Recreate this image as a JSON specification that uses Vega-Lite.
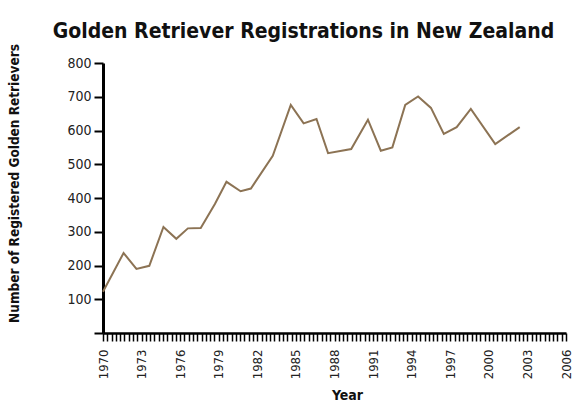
{
  "$schema": "https://vega.github.io/schema/vega-lite/v6.json",
  "width": 463,
  "height": 270,
  "autosize": {"type": "none"},
  "padding": {"left": 103, "top": 63, "right": 7, "bottom": 70},
  "background": "white",
  "config": {"view": {"stroke": null}, "font": "DejaVu Sans Condensed, Roboto, sans-serif"},
  "title": {
    "text": "Golden Retriever Registrations in New Zealand",
    "font": "DejaVu Sans Condensed, Roboto, sans-serif",
    "fontSize": 21,
    "fontWeight": "bold",
    "color": "#111",
    "anchor": "middle",
    "frame": "group",
    "dx": -31,
    "offset": 2
  },
  "data": {
    "values": [
      {"year": 1970.0, "registrations": 122},
      {"year": 1971.6, "registrations": 237},
      {"year": 1972.6, "registrations": 190},
      {"year": 1973.6, "registrations": 199},
      {"year": 1974.7, "registrations": 314},
      {"year": 1975.7, "registrations": 279},
      {"year": 1976.6, "registrations": 310},
      {"year": 1977.6, "registrations": 311},
      {"year": 1978.7, "registrations": 382},
      {"year": 1979.6, "registrations": 448},
      {"year": 1980.7, "registrations": 420},
      {"year": 1981.5, "registrations": 428},
      {"year": 1983.2, "registrations": 525},
      {"year": 1984.6, "registrations": 676},
      {"year": 1985.6, "registrations": 621},
      {"year": 1986.6, "registrations": 634},
      {"year": 1987.5, "registrations": 533},
      {"year": 1989.3, "registrations": 545},
      {"year": 1990.6, "registrations": 632},
      {"year": 1991.6, "registrations": 540},
      {"year": 1992.5, "registrations": 550},
      {"year": 1993.5, "registrations": 676},
      {"year": 1994.5, "registrations": 701},
      {"year": 1995.5, "registrations": 667},
      {"year": 1996.5, "registrations": 590},
      {"year": 1997.5, "registrations": 610},
      {"year": 1998.6, "registrations": 664},
      {"year": 2000.5, "registrations": 560},
      {"year": 2002.4, "registrations": 610}
    ]
  },
  "mark": {"type": "line", "color": "#8C7354", "strokeWidth": 2},
  "encoding": {
    "x": {
      "field": "year",
      "type": "quantitative",
      "scale": {"domain": [1970, 2006], "nice": false, "zero": false},
      "axis": {
        "values": [1970,1970.3333,1970.6667,1971,1971.3333,1971.6667,1972,1972.3333,1972.6667,1973,1973.3333,1973.6667,1974,1974.3333,1974.6667,1975,1975.3333,1975.6667,1976,1976.3333,1976.6667,1977,1977.3333,1977.6667,1978,1978.3333,1978.6667,1979,1979.3333,1979.6667,1980,1980.3333,1980.6667,1981,1981.3333,1981.6667,1982,1982.3333,1982.6667,1983,1983.3333,1983.6667,1984,1984.3333,1984.6667,1985,1985.3333,1985.6667,1986,1986.3333,1986.6667,1987,1987.3333,1987.6667,1988,1988.3333,1988.6667,1989,1989.3333,1989.6667,1990,1990.3333,1990.6667,1991,1991.3333,1991.6667,1992,1992.3333,1992.6667,1993,1993.3333,1993.6667,1994,1994.3333,1994.6667,1995,1995.3333,1995.6667,1996,1996.3333,1996.6667,1997,1997.3333,1997.6667,1998,1998.3333,1998.6667,1999,1999.3333,1999.6667,2000,2000.3333,2000.6667,2001,2001.3333,2001.6667,2002,2002.3333,2002.6667,2003,2003.3333,2003.6667,2004,2004.3333,2004.6667,2005,2005.3333,2005.6667,2006],
        "labelExpr": "abs(datum.value - round(datum.value)) < 0.01 && (round(datum.value) - 1970) % 3 == 0 ? format(round(datum.value), 'd') : ''",
        "grid": false,
        "domainColor": "#000",
        "domainWidth": 2.5,
        "tickColor": "#000",
        "tickWidth": 1.5,
        "tickSize": 8,
        "labelAngle": 270,
        "labelAlign": "right",
        "labelBaseline": "middle",
        "labelPadding": 8,
        "labelFontSize": 13,
        "labelColor": "#222",
        "labelOverlap": false,
        "labelFlush": false,
        "title": "Year",
        "titleFontSize": 14,
        "titleFontWeight": "bold",
        "titleColor": "#111",
        "titleX": 244,
        "titleY": 55
      }
    },
    "y": {
      "field": "registrations",
      "type": "quantitative",
      "scale": {"domain": [0, 800], "nice": false},
      "axis": {
        "values": [0, 100, 200, 300, 400, 500, 600, 700, 800],
        "labelExpr": "datum.value == 0 ? '' : datum.label",
        "grid": false,
        "domainColor": "#000",
        "domainWidth": 3,
        "tickColor": "#000",
        "tickWidth": 2,
        "tickSize": 9,
        "labelPadding": 3,
        "labelFontSize": 14,
        "labelColor": "#222",
        "title": "Number of Registered Golden Retrievers",
        "titleFontSize": 13.5,
        "titleFontWeight": "bold",
        "titleColor": "#111",
        "titleX": -82,
        "titleY": 120
      }
    }
  }
}
